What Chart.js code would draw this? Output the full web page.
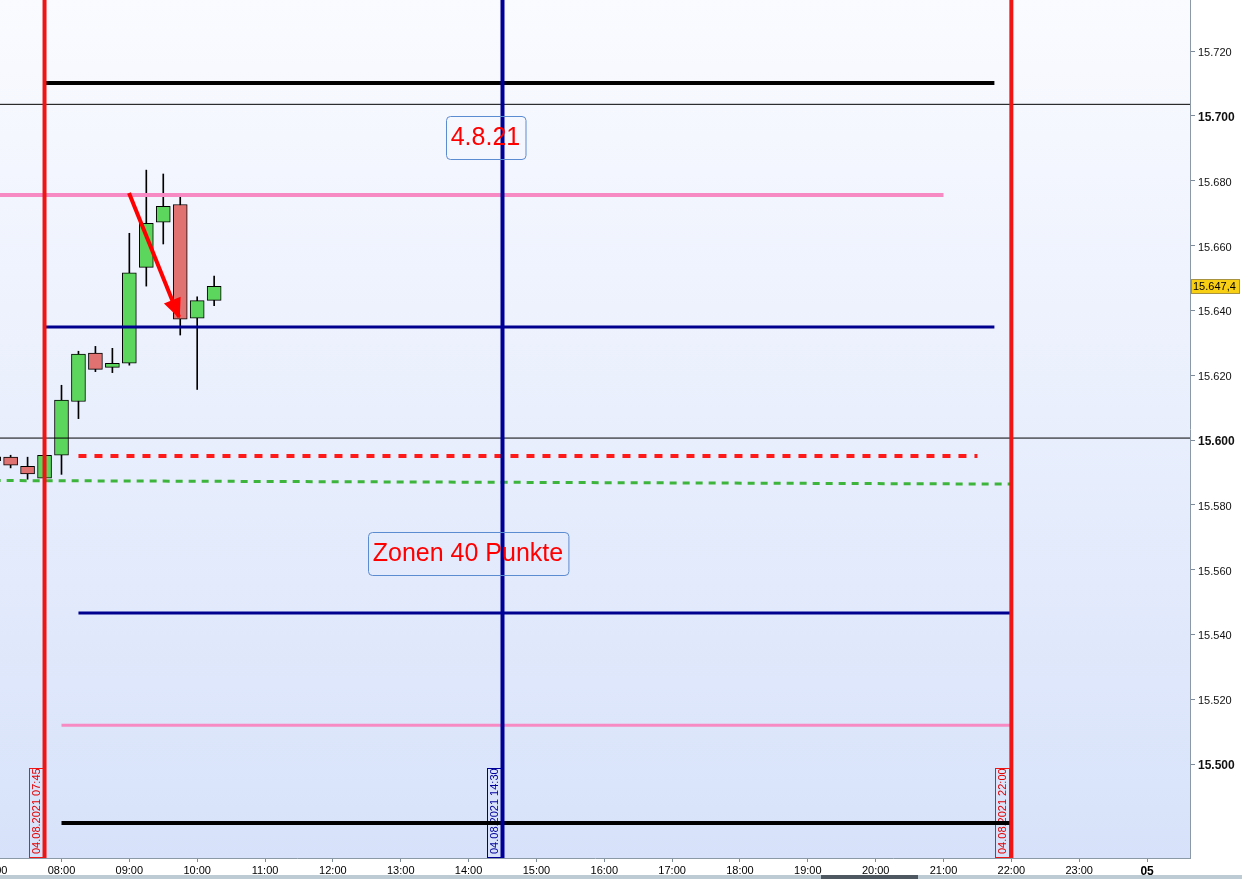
<!DOCTYPE html>
<html>
<head>
<meta charset="utf-8">
<script src="https://cdn.jsdelivr.net/npm/chart.js@4.4.1/dist/chart.umd.min.js"></script>
<style>
  html, body { margin: 0; padding: 0; background: #fff; overflow: hidden; }
  #wrap { width: 1242px; height: 879px; position: relative; }
</style>
</head>
<body>
<div id="wrap"><canvas id="c" width="1242" height="879"></canvas></div>
<script>
const FONT = '"Liberation Sans", Arial, sans-serif'

// 15 min candles, 04.08.2021, time in decimal hours
const candleTimes = [7.0, 7.25, 7.5, 7.75, 8.0, 8.25, 8.5, 8.75, 9.0, 9.25, 9.5, 9.75, 10.0, 10.25]
const opens  = [15594.8, 15594.7, 15591.9, 15588.2, 15595.3, 15611.9, 15626.8, 15622.4, 15623.7, 15653.3, 15667.2, 15672.7, 15637.6, 15643.1]
const highs  = [15595.6, 15595.3, 15594.7, 15595.4, 15616.9, 15627.4, 15628.9, 15628.3, 15663.8, 15683.3, 15682.1, 15675.1, 15644.2, 15650.6]
const lows   = [15592.6, 15591.4, 15587.9, 15588.0, 15589.4, 15606.6, 15621.1, 15620.8, 15623.1, 15647.5, 15660.5, 15632.4, 15615.6, 15641.5]
const closes = [15593.6, 15592.2, 15589.5, 15595.3, 15612.3, 15626.5, 15621.8, 15623.7, 15651.6, 15666.9, 15672.1, 15637.3, 15643.0, 15647.4]
const lastPrice = 15647.4

// horizontal levels: price, start time, end time
const levelPrices = [15710.2, 15703.6, 15675.6, 15634.9, 15600.6, 15595.1, 15546.6, 15512.0, 15481.8]
const levelFrom   = [7.75, 7.0, 7.0, 7.75, 7.0, 8.25, 8.25, 8.0, 8.0]
const levelTo     = [21.75, 25.0, 21.0, 21.75, 25.0, 21.5, 22.0, 22.0, 22.0]

// sloping green trend line
const trendTimes  = [7.0, 22.0]
const trendPrices = [15587.5, 15586.4]

// vertical time markers
const vlineTimes  = [7.75, 14.5, 22.0]
const vlineLabels = ['04.08.2021 07:45', '04.08.2021 14:30', '04.08.2021 22:00']

// arrow (start -> tip)
const arrowTimes  = [8.995, 9.732]
const arrowPrices = [15676.2, 15638.0]

// text notes
const noteTexts  = ['4.8.21', 'Zonen 40 Punkte']
const noteTimes  = [14.249, 13.991]
const notePrices = [15693.5, 15565.1]

// axes
const xMin = 7.0936, xMax = 24.633
const yMin = 15471.0, yMax = 15735.8
const xTicks = [7, 8, 9, 10, 11, 12, 13, 14, 15, 16, 17, 18, 19, 20, 21, 22, 23, 24]
const yTicks = [15500, 15520, 15540, 15560, 15580, 15600, 15620, 15640, 15660, 15680, 15700, 15720]

// styles (not data)
const levelStyle = [
  { c: '#000000', w: 4 },
  { c: '#000000', w: 1 },
  { c: '#f78ac2', w: 4 },
  { c: '#00008f', w: 3 },
  { c: '#000000', w: 1 },
  { c: '#ff1a1a', w: 4, dash: [8, 8] },
  { c: '#00008f', w: 3 },
  { c: '#f78ac2', w: 3 },
  { c: '#000000', w: 4 },
]
const vlineColors = ['#f01515', '#000099', '#f01515']

const upColor = '#5cd65c', downColor = '#e07272'

const datasets = []

// wicks
datasets.push({
  type: 'bar',
  data: candleTimes.map((t, i) => ({ x: t, y: [lows[i], highs[i]] })),
  backgroundColor: '#000',
  borderWidth: 0,
  barThickness: 1,
  grouped: false,
  order: 30
})
// bodies
datasets.push({
  type: 'bar',
  data: candleTimes.map((t, i) => ({ x: t, y: [opens[i], closes[i]] })),
  backgroundColor: candleTimes.map((t, i) => closes[i] >= opens[i] ? upColor : downColor),
  borderColor: '#000',
  borderWidth: 1,
  borderSkipped: false,
  barThickness: 14,
  grouped: false,
  order: 29
})

levelPrices.forEach((p, i) => {
  const s = levelStyle[i]
  datasets.push({
    type: 'line',
    data: [{ x: levelFrom[i], y: p }, { x: levelTo[i], y: p }],
    borderColor: s.c,
    borderWidth: s.w,
    borderDash: s.dash || [],
    pointRadius: 0,
    fill: false,
    order: 10
  })
})

datasets.push({
  type: 'line',
  data: trendTimes.map((t, i) => ({ x: t, y: trendPrices[i] })),
  borderColor: '#3db53d',
  borderWidth: 3,
  borderDash: [7, 6],
  pointRadius: 0,
  fill: false,
  order: 10
})

vlineTimes.forEach((t, i) => {
  datasets.push({
    type: 'line',
    data: [{ x: t, y: yMin - 10 }, { x: t, y: yMax + 10 }],
    borderColor: vlineColors[i],
    borderWidth: 4,
    pointRadius: 0,
    fill: false,
    order: 5
  })
})

const arrowIndex = datasets.length
datasets.push({
  type: 'line',
  data: arrowTimes.map((t, i) => ({ x: t, y: arrowPrices[i] })),
  borderColor: '#ff0000',
  borderWidth: 4,
  pointRadius: 0,
  fill: false,
  order: 1
})

const background = {
  id: 'background',
  beforeDraw(chart) {
    const { ctx, chartArea: a, width, height } = chart
    ctx.save()
    ctx.fillStyle = '#fff'
    ctx.fillRect(0, 0, width, height)
    const g = ctx.createLinearGradient(0, a.top, 0, a.bottom)
    g.addColorStop(0, '#fafbff')
    g.addColorStop(1, '#d7e2fa')
    ctx.fillStyle = g
    ctx.fillRect(a.left, a.top, a.right - a.left, a.bottom - a.top)
    // scrollbar strip at the bottom
    ctx.fillStyle = '#bccbd4'
    ctx.fillRect(0, height - 4, width, 4)
    ctx.fillStyle = '#4d5860'
    ctx.fillRect(821, height - 4, 97, 4)
    ctx.restore()
  }
}

// rotated date tags next to the vertical lines
const dateTags = {
  id: 'dateTags',
  beforeDatasetsDraw(chart) {
    const { ctx, chartArea: a, scales: { x } } = chart
    ctx.save()
    ctx.font = '11px ' + FONT
    ctx.lineWidth = 1
    vlineTimes.forEach((t, i) => {
      const px = Math.round(x.getPixelForValue(t))
      const w = 14, h = 90
      const left = px - 2 - w
      ctx.strokeStyle = vlineColors[i]
      ctx.strokeRect(left + 0.5, a.bottom - h + 0.5, w, h - 1)
      ctx.save()
      ctx.translate(left + w / 2 + 1, a.bottom - 4)
      ctx.rotate(-Math.PI / 2)
      ctx.fillStyle = vlineColors[i] === '#000099' ? '#000099' : '#e00000'
      ctx.textAlign = 'left'
      ctx.textBaseline = 'middle'
      ctx.fillText(vlineLabels[i], 0, 0)
      ctx.restore()
    })
    ctx.restore()
  }
}

const annotations = {
  id: 'annotations',
  afterDatasetsDraw(chart) {
    const { ctx, scales: { x, y } } = chart
    ctx.save()
    // arrow head
    const pts = chart.getDatasetMeta(arrowIndex).data
    if (pts.length === 2) {
      const x0 = pts[0].x, y0 = pts[0].y, x1 = pts[1].x, y1 = pts[1].y
      const ang = Math.atan2(y1 - y0, x1 - x0)
      const len = 18, half = 9
      const bx = x1 - Math.cos(ang) * len, by = y1 - Math.sin(ang) * len
      ctx.fillStyle = '#ff0000'
      ctx.beginPath()
      ctx.moveTo(x1 + Math.cos(ang) * 2, y1 + Math.sin(ang) * 2)
      ctx.lineTo(bx + Math.sin(ang) * half, by - Math.cos(ang) * half)
      ctx.lineTo(bx - Math.sin(ang) * half, by + Math.cos(ang) * half)
      ctx.closePath()
      ctx.fill()
    }
    // note boxes
    ctx.font = '25px ' + FONT
    ctx.textAlign = 'center'
    ctx.textBaseline = 'middle'
    noteTexts.forEach((txt, i) => {
      const cx = x.getPixelForValue(noteTimes[i])
      const cy = y.getPixelForValue(notePrices[i])
      const w = ctx.measureText(txt).width + 10
      const h = 43
      ctx.strokeStyle = '#5b8bd0'
      ctx.lineWidth = 1
      ctx.beginPath()
      ctx.roundRect(Math.round(cx - w / 2) + 0.5, Math.round(cy - h / 2) + 0.5, w, h, 4)
      ctx.stroke()
      ctx.fillStyle = '#ff0000'
      ctx.fillText(txt, cx, cy + 1)
    })
    ctx.restore()
  },
  afterDraw(chart) {
    const { ctx, chartArea: a, scales: { y } } = chart
    const py = Math.round(y.getPixelForValue(lastPrice))
    ctx.save()
    ctx.fillStyle = '#f9cf14'
    ctx.fillRect(a.right + 1, py - 7, 49, 15)
    ctx.strokeStyle = '#a89440'
    ctx.lineWidth = 1
    ctx.strokeRect(a.right + 1.5, py - 6.5, 48, 14)
    ctx.fillStyle = '#000'
    ctx.font = '11px ' + FONT
    ctx.textBaseline = 'middle'
    ctx.textAlign = 'left'
    ctx.fillText('15.647,4', a.right + 3, py + 1)
    ctx.restore()
  }
}

new Chart(document.getElementById('c'), {
  type: 'bar',
  data: { datasets },
  plugins: [background, dateTags, annotations],
  options: {
    responsive: false,
    animation: false,
    devicePixelRatio: 1,
    layout: { padding: 0 },
    plugins: { legend: { display: false }, tooltip: { enabled: false } },
    scales: {
      x: {
        type: 'linear',
        position: 'bottom',
        min: xMin,
        max: xMax,
        offset: false,
        afterBuildTicks: axis => { axis.ticks = xTicks.map(v => ({ value: v })) },
        afterFit: axis => { axis.height = 21; axis.paddingLeft = 0; axis.paddingRight = 0 },
        grid: { offset: false, drawOnChartArea: false, drawTicks: true, tickLength: 4, color: '#7d8a99' },
        border: { display: true, color: '#8b98a6', width: 1 },
        ticks: {
          autoSkip: false,
          maxRotation: 0,
          padding: 2,
          color: '#000',
          font: ctx => ctx.tick && ctx.tick.value === 24
            ? { family: FONT, size: 12, weight: 'bold' }
            : { family: FONT, size: 11 },
          callback: v => v === 24 ? '05' : String(v).padStart(2, '0') + ':00'
        }
      },
      y: {
        type: 'linear',
        position: 'right',
        min: yMin,
        max: yMax,
        beginAtZero: false,
        afterBuildTicks: axis => { axis.ticks = yTicks.map(v => ({ value: v })) },
        afterFit: axis => { axis.width = 52; axis.paddingTop = 0; axis.paddingBottom = 0 },
        grid: { drawOnChartArea: false, drawTicks: true, tickLength: 5, color: '#7d8a99' },
        border: { display: true, color: '#8b98a6', width: 1 },
        ticks: {
          padding: 3,
          labelOffset: 2,
          color: '#111',
          font: ctx => ctx.tick && Math.abs(ctx.tick.value % 100) < 1e-6
            ? { family: FONT, size: 12, weight: 'bold' }
            : { family: FONT, size: 11 },
          callback: v => (v / 1000).toFixed(3)
        }
      }
    }
  }
})
</script>
</body>
</html>
